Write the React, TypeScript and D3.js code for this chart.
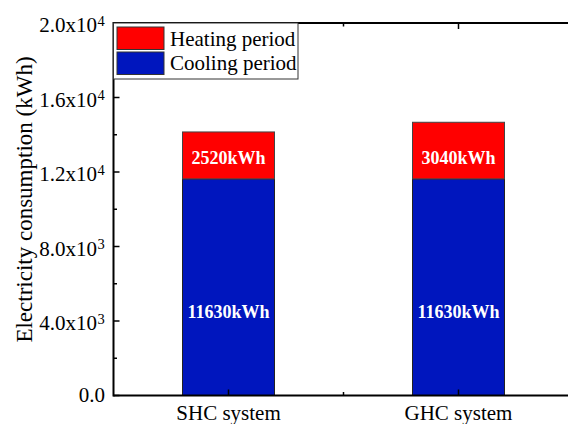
import React from "react";
import * as d3 from "d3";

const categories = ["SHC system", "GHC system"];
const coolingValues = [11630, 11630];
const heatingValues = [2520, 3040];
const coolingLabels = ["11630kWh", "11630kWh"];
const heatingLabels = ["2520kWh", "3040kWh"];
const yTicks = [0, 4000, 8000, 12000, 16000, 20000];
const yTickMant = ["0.0", "4.0x10", "8.0x10", "1.2x10", "1.6x10", "2.0x10"];
const yTickExp = ["", "3", "3", "4", "4", "4"];
const legendItems = ["Heating period", "Cooling period"];

export default function App() {
  const W = 568, H = 424;
  const left = 113.5, top = 23, bottom = 395.5;
  const x = d3.scaleLinear().domain([0.5, 2.5]).range([left, left + 460]);
  const y = d3.scaleLinear().domain([0, 20000]).range([bottom, top]);
  const barW = x(1.2) - x(0.8);
  const font = "'Liberation Serif', 'Times New Roman', serif";
  const minor = d3.range(2000, 20000, 4000);
  const red = "#FF0000";
  const blue = "#0016BE";
  return (
    <svg width={W} height={H} style={{ position: "absolute", left: 0, top: 0, fontFamily: font }}>
      <rect width={W} height={H} fill="#fff" />
      {categories.map((c, i) => {
        const cx = x(i + 1);
        const c0 = y(0), c1 = y(coolingValues[i]), h1 = y(coolingValues[i] + heatingValues[i]);
        return (
          <g key={c}>
            <rect x={cx - barW / 2} y={c1} width={barW} height={c0 - c1} fill={blue} stroke="#222" strokeWidth={1} />
            <rect x={cx - barW / 2} y={h1} width={barW} height={c1 - h1} fill={red} stroke="#444" strokeWidth={1} />
            <text x={cx} y={c1 - 15} textAnchor="middle" fill="#fff" fontWeight="bold" fontSize={18}>{heatingLabels[i]}</text>
            <text x={cx} y={y(4500) + 6} textAnchor="middle" fill="#fff" fontWeight="bold" fontSize={18}>{coolingLabels[i]}</text>
          </g>
        );
      })}
      <line x1={left} y1={bottom} x2={W} y2={bottom} stroke="#000" strokeWidth={2} />
      <line x1={left} y1={top} x2={W} y2={top} stroke="#000" strokeWidth={2} />
      <line x1={left} y1={top - 1} x2={left} y2={bottom + 1} stroke="#000" strokeWidth={2} />
      {yTicks.map((t, i) => (
        <g key={t}>
          <line x1={left} x2={left + 6} y1={y(t)} y2={y(t)} stroke="#000" strokeWidth={1.5} />
          <text x={yTickExp[i] ? 97 : 105} y={y(t) + (yTickExp[i] ? 9 : 6.5)} textAnchor="end" fontSize={21}>
            {yTickMant[i]}
          </text>
          {yTickExp[i] && (
            <text x={97.5} y={y(t) + 2.5} fontSize={14.5}>{yTickExp[i]}</text>
          )}
        </g>
      ))}
      {minor.map((t) => (
        <line key={t} x1={left} x2={left + 3.5} y1={y(t)} y2={y(t)} stroke="#000" strokeWidth={1.5} />
      ))}
      {[1, 1.5, 2].map((v) => (
        <g key={v}>
          <line x1={x(v)} x2={x(v)} y1={bottom} y2={bottom - (v % 1 === 0 ? 6 : 3.5)} stroke="#000" strokeWidth={1.5} />
          <line x1={x(v)} x2={x(v)} y1={top} y2={top + (v % 1 === 0 ? 6 : 3.5)} stroke="#000" strokeWidth={1.5} />
        </g>
      ))}
      {categories.map((c, i) => (
        <text key={c} x={x(i + 1)} y={420} textAnchor="middle" fontSize={21}>{c}</text>
      ))}
      <text transform={`translate(31.5,199.5) rotate(-90)`} textAnchor="middle" fontSize={23}>
        Electricity consumption (kWh)
      </text>
      <rect x={left} y={top} width={184.5} height={56} fill="#fff" stroke="#333" strokeWidth={1} />
      {legendItems.map((l, i) => (
        <g key={l}>
          <rect x={117} y={27 + i * 25} width={47} height={22.5} fill={i === 0 ? red : blue} stroke="#333" strokeWidth={1} />
          <text x={170} y={46 + i * 23.8} fontSize={21}>{l}</text>
        </g>
      ))}
    </svg>
  );
}
